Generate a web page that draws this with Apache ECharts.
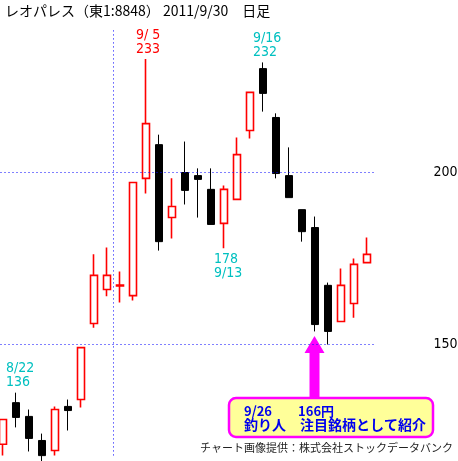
<!DOCTYPE html>
<html><head><meta charset="utf-8">
<script src="https://cdn.jsdelivr.net/npm/echarts@6/dist/echarts.min.js"></script>
<style>html,body{margin:0;padding:0;background:#fff}#c{width:458px;height:461px}</style>
</head><body><div id="c"></div>
<script>
// ---- data ----
const dates = ['8/19','8/22','8/23','8/24','8/25','8/26','8/29','8/30','8/31','9/1','9/2','9/5','9/6','9/7','9/8','9/9','9/12','9/13','9/14','9/15','9/16','9/20','9/21','9/22','9/26','9/27','9/28','9/29','9/30'];
const opens  = [121.0,133.1,129.1,122.1,119.2,132.0,134.0,156.1,166.0,167.0,164.2,198.3,208.1,186.9,200.0,199.1,195.1,185.2,192.2,212.2,230.2,216.0,199.1,189.2,184.0,167.2,156.7,161.9,173.8];
const closes = [128.2,128.8,122.7,117.7,131.1,130.8,149.1,170.1,170.1,167.3,197.1,214.2,179.9,190.1,194.8,198.0,184.9,195.1,205.2,223.3,223.0,199.7,192.7,182.8,155.8,153.8,167.2,173.3,176.2];
const lows   = [117.7,125.9,118.9,116.0,117.7,125.0,131.7,154.9,164.0,162.2,162.8,193.9,177.3,180.8,190.7,186.9,184.9,178.0,192.2,209.9,217.7,198.3,192.7,179.9,153.8,150.0,156.7,157.8,173.8];
const highs  = [128.2,136.0,131.1,124.1,132.0,134.0,149.1,176.2,178.2,171.2,197.1,233.0,211.0,198.3,209.0,201.2,201.2,196.2,210.2,223.3,232.0,217.2,207.3,189.2,187.2,168.0,172.1,175.0,181.1];
const yTickLabels = [150, 200];
const noteDates  = ['8/22','9/5','9/13','9/16'];
const noteValues = [136, 233, 178, 232];
const noteSides  = ['above','above','below','above'];
const monthStart = '9/1';
const titleText = 'レオパレス（東1:8848） 2011/9/30　日足';
const calloutDate = '9/26';
const calloutLine1 = '9/26　　166円';
const calloutLine2 = '釣り人　注目銘柄として紹介';
const creditText = 'チャート画像提供：株式会社ストックデータバンク';

// ---- chart ----
const NARROW = '"Liberation Sans Narrow","DejaVu Sans Condensed","Liberation Sans",sans-serif';
const JP = '"Noto Sans CJK JP",sans-serif';
const chart = echarts.init(document.getElementById('c'), null, {renderer:'canvas'});

const candleData = dates.map((d,i)=>{
  const up = closes[i] >= opens[i];
  return {value:[opens[i], closes[i], lows[i], highs[i]], itemStyle:{borderWidth: up ? 1.6 : 1}};
});

function fmtDate(d){ const [m,dd]=d.split('/'); return m+'/'+dd.padStart(2,' '); }
const noteColor = d => d === '9/5' ? '#ff0000' : '#00c0c0';
const notePoints = noteDates.map((d,i)=>{
  const above = noteSides[i]==='above';
  return {
    coord:[d, noteValues[i]], symbol:'circle', symbolSize:0,
    label:{show:true,
      formatter: above ? fmtDate(d)+'\n'+noteValues[i] : noteValues[i]+'\n'+fmtDate(d),
      position: above ? [-10,-3] : [-10,4], align:'left', verticalAlign: above?'bottom':'top',
      color: noteColor(d), fontSize:14, lineHeight:14, fontFamily: NARROW}
  };
});

const mIdx = dates.indexOf(monthStart);
const dotLine = {color:'#0000ff', width:1, type:[1,3]};

chart.setOption({
  animation:false,
  title:{text:titleText, left:5, top:4, padding:0, textStyle:{fontSize:14, fontWeight:'normal', color:'#000', fontFamily:JP}},
  grid:{left:-3.5, top:0.5, width:377, height:516, containLabel:false, outerBoundsMode:'none'},
  xAxis:[
    {type:'category', data:dates, boundaryGap:true, show:false},
    {type:'value', min:-0.5, max:dates.length-0.5, show:false}
  ],
  yAxis:{type:'value', min:100, max:250, interval:50, position:'right', scale:false,
    axisLine:{show:false}, axisTick:{show:false}, splitLine:{show:false},
    axisLabel:{margin:60, align:'left', color:'#000', fontSize:14, fontFamily:NARROW,
      formatter: v => yTickLabels.includes(v) ? String(v) : ''}},
  series:[
    {type:'candlestick', data:candleData, barWidth:7,
      itemStyle:{color:'#ffffff', color0:'#000000', borderColor:'#ff0000', borderColor0:'#000000'},
      markLine:{silent:true, symbol:['none','none'], label:{show:false}, lineStyle:dotLine,
        data: yTickLabels.map(v=>({yAxis:v}))},
      markPoint:{silent:true, data:notePoints}
    },
    {type:'line', xAxisIndex:1, data:[], silent:true,
      markLine:{silent:true, symbol:['none','none'], label:{show:false}, lineStyle:dotLine,
        data:[[{coord:[mIdx-0.5, 241.3]},{coord:[mIdx-0.5, 116.9]}]]}}
  ]
});

const ax = chart.convertToPixel({xAxisIndex:0, yAxisIndex:0}, [calloutDate, 150]);
const cx = Math.round(ax[0]) - 0.5;
chart.setOption({graphic:[
  {type:'polygon', shape:{points:[[cx,336],[cx-10,353],[cx-5,353],[cx-5,398],[cx+5,398],[cx+5,353],[cx+10,353]]}, style:{fill:'#ff00ff'}},
  {type:'rect', shape:{x:229, y:398, width:204, height:39, r:7}, style:{fill:'#ffff99', stroke:'#ff00ff', lineWidth:2.5}},
  {type:'text', x:244, y:411, style:{text:calloutLine1, fill:'#0000ee', font:'bold 13px '+JP, verticalAlign:'middle'}},
  {type:'text', x:244, y:425, style:{text:calloutLine2, fill:'#0000ee', font:'bold 14px '+JP, verticalAlign:'middle'}},
  {type:'text', x:200, y:448, style:{text:creditText, fill:'#222', font:'11px '+JP, verticalAlign:'middle'}}
]});
</script></body></html>
